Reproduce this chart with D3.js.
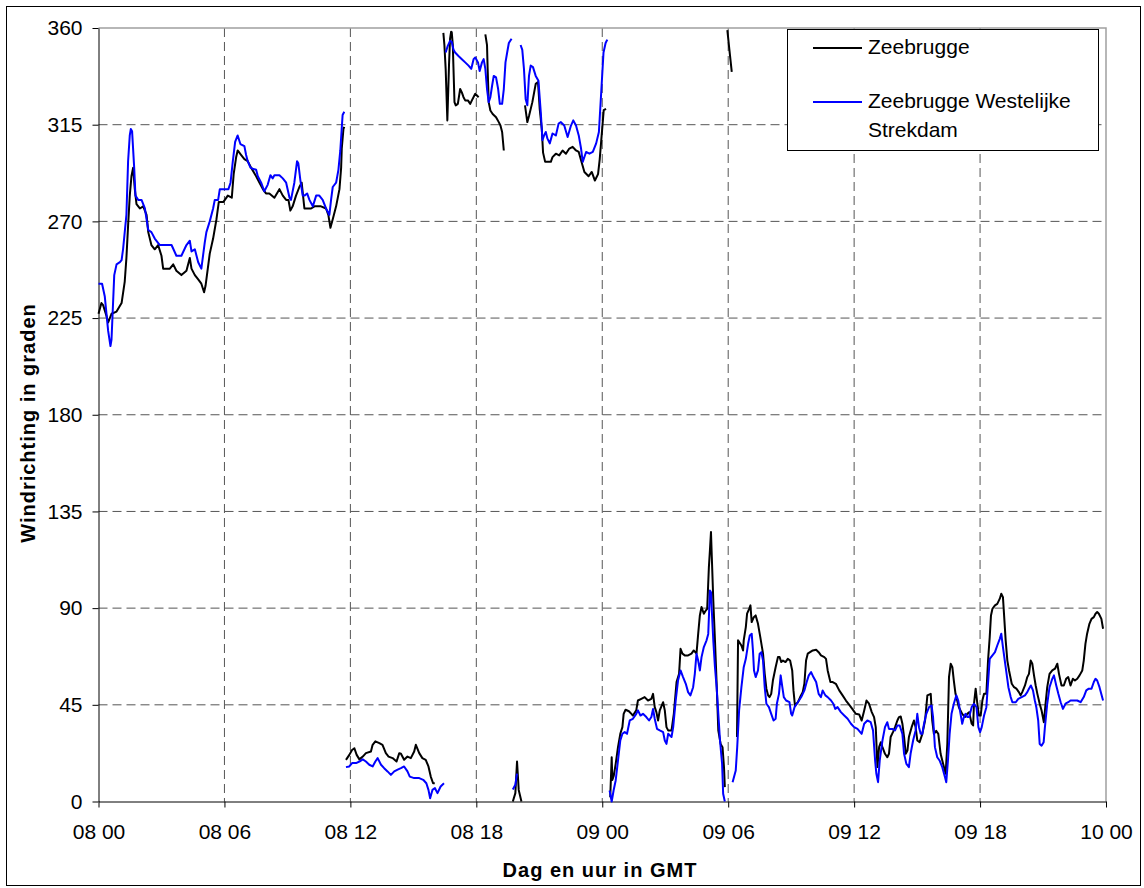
<!DOCTYPE html>
<html>
<head>
<meta charset="utf-8">
<script src="https://cdn.jsdelivr.net/npm/d3@7"></script>
<style>
    body { margin: 0; background: #fff; }
    svg { display: block; font-family: "Liberation Sans", Arial, sans-serif; }
    .tick text { font-size: 21px; fill: #000; }
    .grid line { stroke: #555; stroke-width: 1; stroke-dasharray: 9,5; }
    .title { font-size: 20px; font-weight: bold; letter-spacing: 1px; }
</style>
</head>
<body>
<svg id="chart" width="1144" height="888"></svg>
<script>
// hours after 08 00 GMT
const hourTicks = [0, 6, 12, 18, 24, 30, 36, 42, 48];
const hourLabels = ["08 00", "08 06", "08 12", "08 18", "09 00", "09 06", "09 12", "09 18", "10 00"];
const degreeTicks = [0, 45, 90, 135, 180, 225, 270, 315, 360];
const seriesNames = ["Zeebrugge", "Zeebrugge Westelijke Strekdam"];
const seriesColors = ["#000000", "#0000ff"];

// [hour, degrees], null = gap in the record
const zeebrugge = [
    [0.00,227],[0.14,232],[0.22,231],[0.38,226],[0.46,223],[0.62,227],[0.86,228],[1.10,232],[1.25,242],[1.33,253],
    [1.41,268],[1.49,282],[1.57,291],[1.65,295],[1.73,285],[1.81,278],[1.97,276],[2.13,277],[2.29,273],[2.37,265],
    [2.52,259],[2.68,257],[2.84,259],[3.00,254],[3.08,248],[3.24,248],[3.40,248],[3.56,250],[3.71,247],[3.95,245],
    [4.19,247],[4.35,253],[4.43,248],[4.59,245],[4.75,243],[4.90,241],[5.03,237],[5.10,240],[5.30,255],[5.46,262],
    [5.62,271],[5.73,279],[5.94,279],[6.02,280],[6.16,282],[6.35,281],[6.44,292],[6.56,300],[6.63,303],[6.79,301],
    [6.95,299],[7.11,298],[7.27,295],[7.51,291],[7.67,288],[7.83,285],[7.98,283],[8.14,283],[8.38,281],[8.62,285],
    [8.78,282],[8.94,280],[9.05,280],[9.14,275],[9.25,277],[9.41,282],[9.57,286],[9.68,288],[9.81,276],[10.13,276],
    [10.29,277],[10.60,277],[10.84,276],[10.95,273],[11.05,267],[11.16,271],[11.32,277],[11.48,285],[11.56,295],
    [11.59,304],[11.67,313],[11.71,314],
    null,
    [11.79,19.4],[11.95,21.7],[12.08,24],[12.19,24.8],[12.30,21.7],[12.43,19.6],[12.59,20.9],[12.74,22.5],[12.98,23.3],
    [13.06,26.4],[13.19,28],[13.38,27.2],[13.53,26.4],[13.69,22.5],[13.82,20.9],[14.01,20.2],[14.20,18.6],[14.33,22.5],
    [14.41,22.2],[14.56,19.4],[14.72,20.9],[14.88,20.2],[15.04,23.3],[15.12,26.4],[15.28,22.5],[15.43,20.2],[15.59,19.4],
    [15.72,16.3],[15.83,11.6],[15.94,8.5],[16.02,8.5],
    null,
    [16.43,357.7],[16.48,352],[16.54,341],[16.62,317],[16.70,343],[16.75,355],[16.80,358.3],[16.83,358],[16.88,352],
    [16.91,342],[16.96,325.5],[17.02,324],[17.12,324.7],[17.23,331.6],[17.31,330],[17.39,327.8],[17.47,326.3],
    [17.60,326.3],[17.71,324.7],[17.79,326.3],[17.95,329.4],[18.11,327.8],
    null,
    [18.43,357],[18.51,352],[18.54,341],[18.59,325.5],[18.67,321.6],[18.78,320],[18.94,318.5],[19.07,316.2],
    [19.15,314.6],[19.23,311.6],[19.31,303],
    null,
    [19.74,0],[19.86,3.9],[19.94,18.6],[20.02,5.4],[20.15,0],
    null,
    [20.32,324],[20.43,316.2],[20.51,319],[20.67,325.5],[20.83,334],[20.94,334.8],[21.02,322.4],[21.12,313],[21.18,302],
    [21.28,297.7],[21.39,297.7],[21.55,297.7],[21.63,299.9],[21.79,301.5],[21.95,300.7],[22.11,303],[22.27,301.5],
    [22.43,303.9],[22.59,304.7],[22.75,303],[22.88,302.3],[22.99,298.4],[23.15,293],[23.35,291],[23.50,293],
    [23.65,289],[23.80,292],[23.88,299],[24.07,321.8],[24.18,322.4],
    null,
    [24.38,2],[24.45,20.6],[24.48,10],[24.55,12],[24.64,17.5],[24.75,25.3],[24.86,31.5],[24.96,34.6],[25.02,40.8],
    [25.11,42.7],[25.27,42],[25.39,40.8],[25.46,40],[25.62,42.4],[25.70,47],[25.86,47.8],[26.02,48.6],[26.18,47],
    [26.34,47.8],[26.42,50.1],[26.50,43.9],[26.58,41.6],[26.66,37.7],[26.74,42.4],[26.90,46.2],[26.98,42.4],[27.06,34.6],
    [27.14,33.1],[27.30,33.1],[27.41,40.8],[27.54,55.6],[27.66,59.4],[27.73,71.1],[27.82,68.8],[27.93,68],[28.09,68],
    [28.25,68.8],[28.36,70.3],[28.49,68.8],[28.57,78],[28.65,86.6],[28.73,90.5],[28.84,87.4],[28.94,89],[29.00,89.7],
    [29.08,109],[29.13,116.9],[29.18,125.4],[29.22,113.8],[29.29,93.6],[29.37,75],[29.45,54.8],[29.53,33],[29.64,26.8],
    [29.73,25.3],[29.80,16],[29.84,6.7],
    null,
    [29.96,359],[30.05,350.5],[30.17,339.6],
    null,
    [30.42,30],[30.47,75],[30.63,72.6],[30.71,70.3],[30.74,75],[30.84,81.2],[30.90,87.4],[31.00,89.7],[31.06,91.3],
    [31.12,83.5],[31.22,85.8],[31.31,86.6],[31.42,82.7],[31.53,76.5],[31.66,68.8],[31.74,59.4],[31.82,52.5],[31.90,49.4],
    [31.97,48.6],[32.05,50.1],[32.13,56.3],[32.26,62.5],[32.37,67.2],[32.45,67.2],[32.53,64.9],[32.61,65.6],[32.73,64.9],
    [32.84,66.4],[32.95,65.6],[33.05,61],[33.11,51.7],[33.18,44.7],[33.32,46.2],[33.43,48.6],[33.55,50.9],[33.63,54.8],
    [33.71,65.6],[33.79,68.8],[33.90,69.5],[34.03,70.3],[34.19,70.6],[34.31,69.5],[34.42,68],[34.58,67.2],[34.66,66.4],
    [34.74,61],[34.87,55.6],[34.98,55.6],[35.13,54.8],[35.29,51.7],[35.45,49.4],[35.61,47],[35.77,45],[35.92,43],
    [36.08,40.8],[36.24,40.5],[36.36,37.7],[36.48,42.4],[36.59,47],[36.71,45.5],[36.84,41.6],[36.95,39.3],[37.03,34.6],
    [37.11,16],[37.19,25.3],[37.27,27.6],[37.35,25.3],[37.47,22.2],[37.58,20.6],[37.66,22.2],[37.74,30],[37.85,32.3],
    [37.95,34.6],[38.06,37.7],[38.14,39.3],[38.22,39.6],[38.30,36.2],[38.38,30],[38.46,22.2],[38.54,23.7],[38.61,30],
    [38.74,34.6],[38.85,37.7],[38.93,34.6],[39.01,28.4],[39.12,27.6],[39.25,31.5],[39.38,37.7],[39.49,49.4],[39.65,50.1],
    [39.72,37.7],[39.80,31.5],[39.91,32.9],[40.01,31.5],[40.12,22.2],[40.20,19.1],[40.36,12.9],[40.44,26.8],[40.52,57.9],
    [40.60,64.1],[40.68,62.5],[40.75,56.3],[40.83,50.1],[40.91,47],[40.99,43.9],[41.15,40.8],[41.28,39.3],[41.39,40.8],
    [41.48,41.6],[41.60,36.2],[41.67,35.4],[41.71,45.5],[41.79,52.5],[41.87,45.5],[41.95,40],[42.03,40],[42.11,47],
    [42.19,50.1],[42.30,50.1],[42.38,65.6],[42.46,76.5],[42.52,86.6],[42.59,89.7],[42.71,91.3],[42.82,92],[42.94,94.4],
    [43.01,96.7],[43.09,95.1],[43.16,84.3],[43.22,75],[43.30,65.6],[43.38,61],[43.51,54.8],[43.62,53.2],[43.73,52.5],
    [43.85,50.9],[43.93,49.4],[44.01,50.9],[44.14,54],[44.25,57.9],[44.33,59.4],[44.41,65.6],[44.49,64.1],[44.57,58.7],
    [44.65,54],[44.73,50.1],[44.84,45.5],[44.93,42.4],[45.04,36.9],[45.12,45.5],[45.20,53.2],[45.31,59.4],[45.44,61],
    [45.57,61.8],[45.68,64.1],[45.76,59.4],[45.88,54],[45.99,54],[46.10,57.1],[46.20,57.9],[46.31,54],[46.42,57.1],
    [46.52,56.3],[46.63,57.1],[46.74,58.7],[46.87,61],[46.94,65.6],[47.02,73.4],[47.10,78.1],[47.21,82.7],[47.31,85],
    [47.42,85.8],[47.50,87.4],[47.58,88.2],[47.66,87.4],[47.78,85],[47.86,80.4]
];

const westdam = [
    [0.00,241],[0.17,241],[0.30,235],[0.46,219],[0.57,212],[0.62,215],[0.75,245],[0.86,250],[1.02,251],[1.10,252],
    [1.17,257],[1.33,273],[1.41,298],[1.49,310],[1.54,313],[1.60,312],[1.70,295],[1.76,282],[1.89,280],[2.05,280],
    [2.21,276],[2.37,266],[2.52,265],[2.68,262],[2.92,259],[3.16,259],[3.48,259],[3.71,254],[3.95,254],[4.19,259],
    [4.35,261],[4.43,256],[4.59,257],[4.75,251],[4.90,248],[5.06,260],[5.14,265],[5.30,270],[5.46,276],[5.54,280],
    [5.70,280],[5.78,285],[6.00,285],[6.19,285],[6.29,288],[6.40,298],[6.51,307],[6.63,310],[6.76,306],[6.95,305],
    [7.03,301],[7.11,298],[7.24,295],[7.35,294.5],[7.51,294],[7.59,291],[7.75,288],[7.90,284],[8.06,287],[8.19,291.5],
    [8.30,290],[8.38,291.5],[8.62,291.5],[8.78,290],[8.94,288],[9.10,281],[9.17,280],[9.33,288],[9.46,298],[9.52,297],
    [9.62,289],[9.73,282],[9.81,282],[9.94,283],[10.05,280],[10.21,277],[10.37,282],[10.52,282],[10.68,280],[10.84,276],
    [11.00,273],[11.08,280],[11.16,286],[11.32,288],[11.43,294],[11.52,303],[11.59,313.5],[11.63,319.5],[11.71,321],
    null,
    [11.79,16],[11.95,16.3],[12.08,17.9],[12.27,17.9],[12.43,18.6],[12.59,19.6],[12.74,18.6],[12.90,17.1],[13.06,16.3],
    [13.19,18.6],[13.30,20.2],[13.46,17.1],[13.61,15.5],[13.77,14],[13.93,12.4],[14.09,14],[14.25,14.8],[14.41,15.5],
    [14.56,16.3],[14.72,14],[14.83,11.6],[15.04,10.9],[15.28,10.9],[15.47,10.1],[15.62,8.5],[15.72,5.4],[15.80,1.5],
    [15.91,5.4],[16.03,6.2],[16.15,3.9],[16.30,7],[16.46,8.5],
    null,
    [16.54,348.6],[16.64,351.7],[16.75,354],[16.83,353.5],[16.91,350],[16.99,348.6],[17.15,347],[17.31,345.5],
    [17.47,344],[17.63,342.5],[17.76,341],[17.87,345.5],[17.95,346.3],[18.08,344],[18.16,340],[18.27,344],[18.35,345.5],
    [18.43,341],[18.51,331.6],[18.59,325.5],[18.67,327.8],[18.75,333],[18.83,337.7],[18.94,337],[19.04,331.6],
    [19.12,324.7],[19.23,324.7],[19.31,331.6],[19.39,344],[19.47,348.6],[19.55,353],[19.68,355],
    null,
    [19.74,5.6],[19.86,7.8],[19.94,13],
    null,
    [20.11,352.1],[20.19,349.8],[20.27,341],[20.35,327],[20.43,324],[20.51,337.7],[20.59,342.5],[20.70,341.8],
    [20.83,337.7],[20.96,335.4],[21.07,321],[21.15,307.8],[21.23,310],[21.31,311.6],[21.39,308.5],[21.50,306.3],
    [21.63,310.9],[21.79,310],[21.92,315.5],[22.03,316.2],[22.19,314.6],[22.35,309.3],[22.51,314.6],[22.62,317],
    [22.75,314.6],[22.88,310],[22.99,303.9],[23.07,297.7],[23.23,302.3],[23.39,301.5],[23.55,302.3],[23.71,306.3],
    [23.84,311.6],[23.95,330],[24.06,348.6],[24.16,353],[24.24,354.6],
    null,
    [24.35,5.1],[24.45,0],[24.54,5.1],[24.64,9.8],[24.75,19.1],[24.86,28.4],[24.96,31.5],[25.07,32.3],[25.18,31.5],
    [25.31,37.7],[25.46,38.5],[25.62,40.8],[25.70,42.4],[25.82,40],[25.94,40.8],[26.10,39.3],[26.23,37.7],[26.34,39.3],
    [26.42,43.1],[26.50,38.5],[26.61,33.8],[26.74,33.1],[26.90,32.3],[26.98,28.4],[27.06,26.8],[27.14,31.5],[27.30,30],
    [27.38,34.6],[27.50,47],[27.61,56.3],[27.73,61],[27.85,57.9],[27.98,54.8],[28.09,50.9],[28.20,49.4],[28.33,53.2],
    [28.41,59.4],[28.49,68.8],[28.57,65.6],[28.65,61],[28.73,67.2],[28.84,71.9],[28.97,75],[29.05,78],[29.13,98.2],
    [29.18,97.4],[29.22,89],[29.29,75],[29.37,62.5],[29.45,53.2],[29.53,40.8],[29.61,28.4],[29.71,17.5],[29.76,3.6],
    [29.84,0],
    null,
    [30.21,9],[30.36,14.4],[30.43,25.3],[30.52,42.4],[30.63,53.2],[30.74,62.5],[30.84,66.4],[30.95,73.4],[31.03,77.3],
    [31.12,78.1],[31.18,70.3],[31.23,61],[31.31,57.9],[31.42,61],[31.50,68.8],[31.58,69.5],[31.66,65.6],[31.74,53.2],
    [31.82,45.5],[31.94,43.9],[32.05,40.8],[32.16,37.7],[32.26,38.5],[32.32,45.5],[32.42,50.1],[32.50,58.7],[32.58,53.2],
    [32.65,48.6],[32.76,47],[32.92,46.2],[33.00,40.8],[33.05,40],[33.16,43.9],[33.32,46.2],[33.48,48.6],[33.63,51.7],
    [33.74,55.6],[33.84,58.7],[33.95,60.2],[34.06,57.9],[34.19,55.6],[34.31,50.1],[34.42,48.6],[34.50,51.7],[34.63,49.4],
    [34.74,48.6],[34.90,47],[35.01,45.5],[35.10,43.1],[35.21,43.9],[35.37,41.6],[35.53,40],[35.69,38.5],[35.85,36.2],
    [36.00,34.6],[36.16,33.8],[36.36,31.5],[36.48,36.2],[36.63,37.7],[36.79,36.9],[36.90,33.1],[37.00,19.1],[37.06,12.9],
    [37.14,9],[37.22,19.1],[37.35,28.4],[37.47,34.6],[37.58,36.9],[37.66,33.8],[37.82,33.8],[37.95,33.1],[38.06,35.4],
    [38.17,35.4],[38.30,31.5],[38.38,22.2],[38.49,17.5],[38.61,16],[38.69,22.2],[38.81,28.4],[38.93,33.1],[39.01,40.8],
    [39.09,34.6],[39.17,31.5],[39.25,31.5],[39.33,36.2],[39.44,40.8],[39.57,43.9],[39.69,44.7],[39.76,39.3],[39.85,25.3],
    [39.96,20.6],[40.07,19.1],[40.20,16],[40.33,11.3],[40.39,9],[40.47,19.1],[40.55,31.5],[40.64,40.8],[40.75,45.5],
    [40.87,49.4],[40.96,47],[41.07,40.8],[41.15,36.2],[41.23,39.3],[41.31,40.8],[41.39,39.3],[41.48,39.3],[41.60,43.9],
    [41.71,45.5],[41.83,43.9],[41.92,34.6],[42.00,32.3],[42.08,34.6],[42.19,40],[42.30,43.9],[42.40,57.9],[42.46,66.4],
    [42.59,68],[42.71,69.5],[42.82,72.6],[42.94,75.7],[43.01,78.1],[43.09,71.9],[43.22,62.5],[43.35,53.2],[43.46,48.6],
    [43.54,46.2],[43.70,46.2],[43.82,47.8],[43.98,48.6],[44.14,49.4],[44.25,50.9],[44.33,52.5],[44.42,54],[44.52,51.7],
    [44.61,47],[44.68,43.9],[44.77,37.7],[44.84,26.8],[44.93,26],[45.03,27.6],[45.09,34.6],[45.20,45.5],[45.31,53.2],
    [45.44,57.1],[45.52,58.7],[45.63,54],[45.73,50.1],[45.84,46.2],[45.95,43.1],[46.07,45.5],[46.20,46.2],[46.31,47],
    [46.47,47],[46.63,47],[46.79,46.2],[46.94,48.6],[47.06,51.7],[47.18,52.5],[47.31,52.5],[47.42,55.6],[47.50,57.1],
    [47.58,56.3],[47.69,53.2],[47.86,47]
];

const svg = d3.select("#chart");
const plotLeft = 98.5, plotRight = 1106, plotTop = 28, plotBottom = 801.5;

const x = d3.scaleLinear().domain([0, 48]).range([plotLeft, plotRight]);
const y = d3.scaleLinear().domain([0, 360]).range([plotBottom, plotTop]);

// outer frame
svg.append("rect")
    .attr("x", 6.5).attr("y", 6.5)
    .attr("width", 1134).attr("height", 879)
    .attr("fill", "none").attr("stroke", "#000").attr("stroke-width", 1);

// grid
svg.append("g").attr("class", "grid")
    .selectAll("line")
    .data(degreeTicks.slice(1, -1))
    .enter().append("line")
    .attr("x1", plotLeft).attr("x2", plotRight)
    .attr("y1", d => y(d)).attr("y2", d => y(d));

svg.append("g").attr("class", "grid")
    .selectAll("line")
    .data(hourTicks.slice(1, -1))
    .enter().append("line")
    .attr("x1", d => x(d)).attr("x2", d => x(d))
    .attr("y1", plotTop).attr("y2", plotBottom);

// plot area border, top and right
svg.append("path")
    .attr("d", `M${plotLeft},${plotTop}H${plotRight}V${plotBottom}`)
    .attr("fill", "none").attr("stroke", "#a0a0a0").attr("stroke-width", 1.5);

// axes
svg.append("g")
    .attr("transform", `translate(${plotLeft},0)`)
    .call(d3.axisLeft(y).tickValues(degreeTicks).tickSize(6).tickSizeOuter(0).tickPadding(10))
    .call(g => g.selectAll("line, path").attr("stroke", "#000"));

svg.append("g")
    .attr("transform", `translate(0,${plotBottom})`)
    .call(d3.axisBottom(x).tickValues(hourTicks).tickFormat((d, i) => hourLabels[i])
        .tickSize(6).tickSizeOuter(0).tickPadding(17))
    .call(g => g.selectAll("line, path").attr("stroke", "#000"));

svg.selectAll(".tick text").attr("font-family", null).attr("font-size", null);

// series
const line = d3.line()
    .defined(d => d !== null)
    .x(d => x(d[0]))
    .y(d => y(d[1]));

[zeebrugge, westdam].forEach((data, i) => {
    svg.append("path")
        .datum(data)
        .attr("d", line)
        .attr("fill", "none")
        .attr("stroke", seriesColors[i])
        .attr("stroke-width", 2)
        .attr("stroke-linejoin", "round");
});

// axis titles
svg.append("text")
    .attr("class", "title")
    .attr("transform", "translate(35,423) rotate(-90)")
    .attr("text-anchor", "middle")
    .text("Windrichting in graden");

svg.append("text")
    .attr("class", "title")
    .attr("x", 600).attr("y", 877)
    .attr("text-anchor", "middle")
    .text("Dag en uur in GMT");

// legend
const legend = svg.append("g");
legend.append("rect")
    .attr("x", 787.5).attr("y", 29.5)
    .attr("width", 311).attr("height", 121)
    .attr("fill", "#fff").attr("stroke", "#000").attr("stroke-width", 1);

const legendRows = [[seriesNames[0]], ["Zeebrugge Westelijke", "Strekdam"]];
const legendY = [48, 102];

legendRows.forEach((rows, i) => {
    legend.append("line")
        .attr("x1", 813).attr("x2", 862)
        .attr("y1", legendY[i]).attr("y2", legendY[i])
        .attr("stroke", seriesColors[i]).attr("stroke-width", 2);
    legend.append("text")
        .attr("font-size", 21)
        .selectAll("tspan")
        .data(rows)
        .enter().append("tspan")
        .attr("x", 868)
        .attr("y", (d, j) => legendY[i] + 6 + j * 28.5)
        .text(d => d);
});
</script>
</body>
</html>
